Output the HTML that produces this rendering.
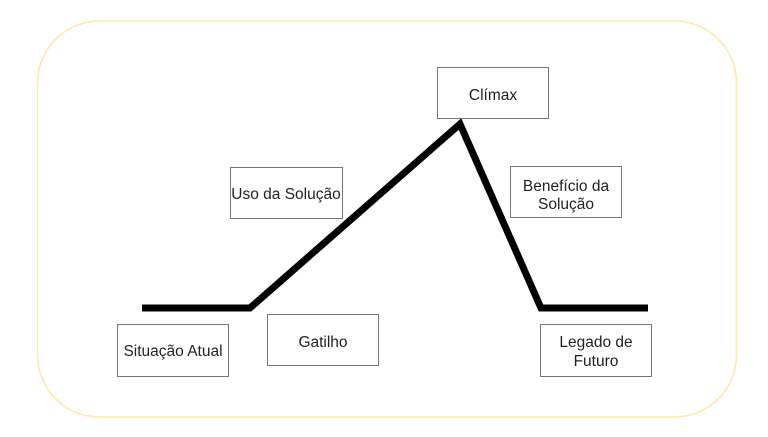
<!DOCTYPE html>
<html><head><style>
body{margin:0;width:768px;height:432px;background:#fff;overflow:hidden}
svg text{font-family:"Liberation Sans",Arial,sans-serif;font-size:15.5px;fill:#222}
</style></head><body>
<svg width="768" height="432" viewBox="0 0 768 432" xmlns="http://www.w3.org/2000/svg">
<rect x="37.5" y="21" width="699" height="396" rx="62" fill="none" stroke="#fde9a4" stroke-width="1.5"/>
<polyline points="142,308 250,308 460,124 541,308 648,308" fill="none" stroke="#000" stroke-width="7" stroke-linejoin="miter"/>
<g fill="#fff" stroke="#777" stroke-width="1">
<rect x="117.5" y="324.5" width="111" height="52"/>
<rect x="267.5" y="314.5" width="111" height="51"/>
<rect x="437.5" y="67.5" width="111" height="51"/>
<rect x="230.5" y="167.5" width="112" height="51"/>
<rect x="510.5" y="166.5" width="111" height="51"/>
<rect x="540.5" y="324.5" width="111" height="52"/>
</g>
<g text-anchor="middle">
<text x="173" y="356">Situação Atual</text>
<text x="323" y="347">Gatilho</text>
<text x="493" y="100">Clímax</text>
<text x="286" y="199">Uso da Solução</text>
<text x="566" y="191">Benefício da</text>
<text x="566" y="209">Solução</text>
<text x="596" y="347">Legado de</text>
<text x="596" y="366">Futuro</text>
</g>
</svg>
</body></html>
